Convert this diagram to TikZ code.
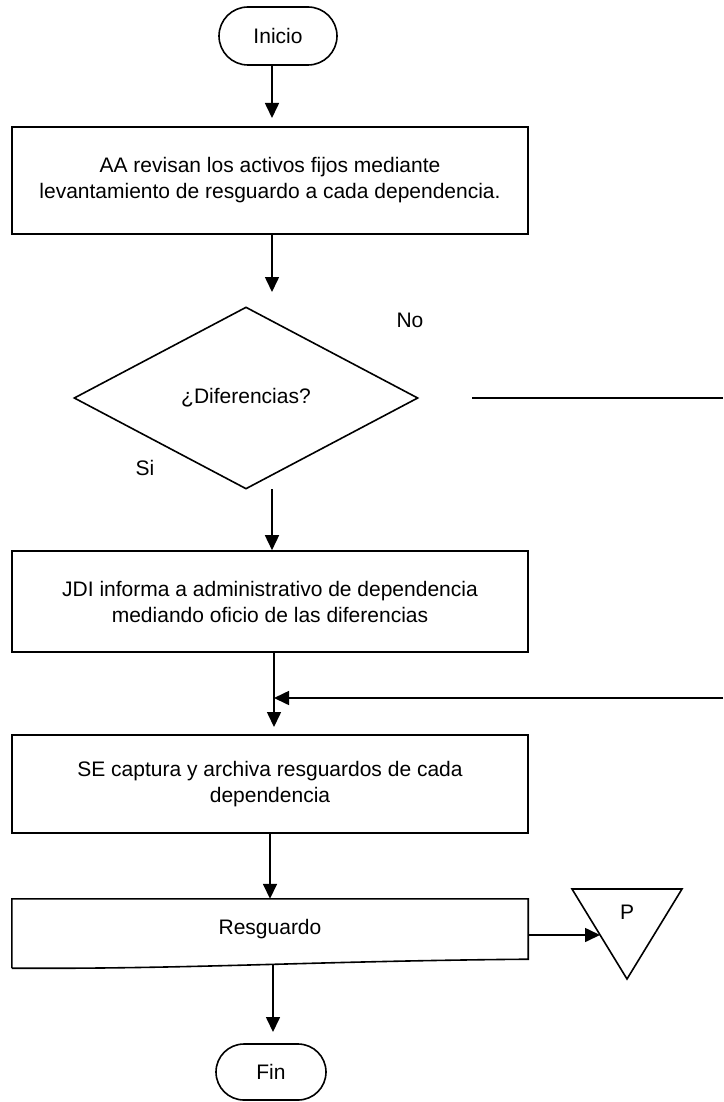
\documentclass[tikz,border=0pt]{standalone}
\usepackage{fontspec}
\setmainfont{Liberation Sans}
\usetikzlibrary{shapes.geometric,arrows.meta}
\begin{document}
\begin{tikzpicture}[x=1pt,y=-1pt,
  every node/.style={font=\fontsize{21}{26}\selectfont},
  shp/.style={draw, line width=1.6pt},
  proc/.style={shp, rectangle, minimum width=516pt, align=center, inner sep=0pt},
  term/.style={shp, rectangle, inner sep=0pt},
  arr/.style={line width=1.6pt, -{Triangle[length=15pt,width=14pt]}},
  ln/.style={line width=1.6pt},
  lbl/.style={inner sep=0pt}
]
\useasboundingbox (0,0) rectangle (723,1102);

% nodes
\node[term, minimum width=118pt, minimum height=58pt, rounded corners=29pt] (ini) at (278,36) {Inicio};
\node[proc, minimum height=107pt] (box1) at (270,180.5) {AA revisan los activos fijos mediante\\levantamiento de resguardo a cada dependencia.};
\node[shp, diamond, aspect=1.9, minimum width=344pt, minimum height=182pt, inner sep=0pt] (dia) at (246,398) {¿Diferencias?};
\node[lbl] (no) at (410,320) {No};
\node[lbl] (si) at (145,468) {Si};
\node[proc, minimum height=101pt] (box2) at (270,601.5) {JDI informa a administrativo de dependencia\\mediando oficio de las diferencias};
\node[proc, minimum height=98pt] (box3) at (270,784) {SE captura y archiva resguardos de cada\\dependencia};
\node[minimum width=516pt, minimum height=60pt, inner sep=0pt] (doc) at (270,929) {Resguardo};
\draw[shp] ([yshift=-9pt]doc.south west) -- (doc.north west) -- (doc.north east) -- (doc.south east)
  .. controls +(-220,2) and +(180,1) .. ([yshift=-9pt]doc.south west);
\node[lbl] (p) at (627,912) {P};
\coordinate (triA) at (572,889);
\coordinate (triB) at (682,889);
\coordinate (triC) at (627,979);
\draw[shp] (triA) -- (triB) -- (triC) -- cycle;
\node[term, minimum width=110pt, minimum height=56pt, rounded corners=28pt] (fin) at (271,1072) {Fin};

% connectors
\coordinate (t1) at (272,118);
\draw[arr] (ini.south -| t1) -- (t1);
\coordinate (t2) at (272,292);
\draw[arr] (box1.south -| t2) -- (t2);
\coordinate (s3) at (272,489);
\draw[arr] (s3) -- (box2.north -| s3);
\coordinate (noS) at (472,398);
\coordinate (noE) at (723,398);
\draw[ln] (noS) -- (noE);
\coordinate (t4) at (274,727);
\draw[arr] (box2.south -| t4) -- (t4);
\coordinate (retS) at (723,698);
\coordinate (retE) at (274,698);
\draw[arr] (retS) -- (retE);
\coordinate (c5) at (270,0);
\draw[arr] (box3.south -| c5) -- (doc.north -| c5);
\coordinate (c6) at (0,935);
\coordinate (t6) at (600,935);
\draw[arr] (doc.east |- c6) -- (t6);
\coordinate (s7) at (273,964);
\coordinate (t7) at (273,1032);
\draw[arr] (s7) -- (t7);
\end{tikzpicture}
\end{document}
